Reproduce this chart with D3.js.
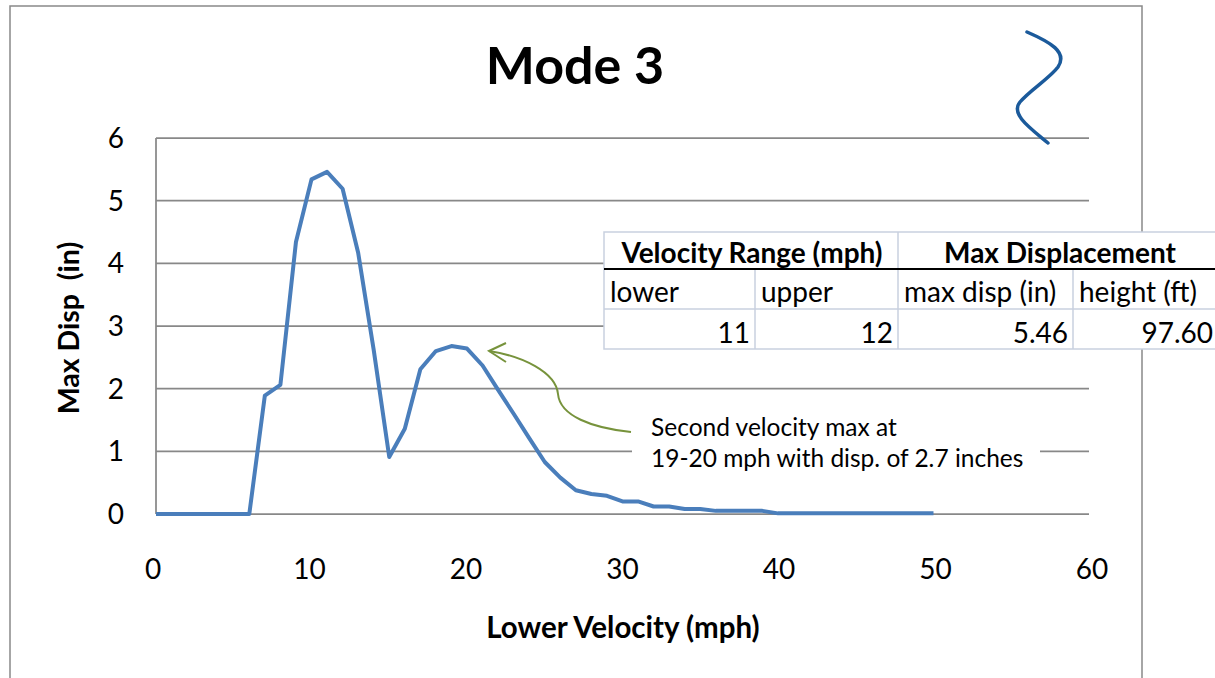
<!DOCTYPE html>
<html>
<head>
<meta charset="utf-8">
<script src="https://cdnjs.cloudflare.com/ajax/libs/d3/7.8.5/d3.min.js"></script>
<style>
  body { margin: 0; background: #fff; }
  svg { display: block; font-family: Lato, "Noto Sans", sans-serif; }
</style>
</head>
<body>
<div id="chart"></div>
<script>
/* chart data */
var velocity = [0, 1, 2, 3, 4, 5, 6, 7, 8, 9, 10, 11, 12, 13, 14, 15, 16, 17, 18, 19, 20,
                21, 22, 23, 24, 25, 26, 27, 28, 29, 30, 31, 32, 33, 34, 35, 36, 37, 38, 39, 40,
                41, 42, 43, 44, 45, 46, 47, 48, 49, 50];
var maxDisp = [0, 0, 0, 0, 0, 0, 0, 1.89, 2.06, 4.34, 5.34, 5.46, 5.19, 4.17, 2.62, 0.91, 1.36, 2.31, 2.60, 2.68, 2.64,
               2.37, 1.98, 1.60, 1.21, 0.83, 0.58, 0.38, 0.32, 0.29, 0.20, 0.20, 0.12, 0.12, 0.08, 0.08, 0.05, 0.05, 0.05, 0.05, 0.01,
               0.01, 0.01, 0.01, 0.01, 0.01, 0.01, 0.01, 0.01, 0.01, 0.01];
var xTicks = [0, 10, 20, 30, 40, 50, 60];
var yTicks = [0, 1, 2, 3, 4, 5, 6];

/* table data */
var tableGroups = ["Velocity Range (mph)", "Max Displacement"];
var tableColumns = ["lower", "upper", "max disp (in)", "height (ft)"];
var tableValues = ["11", "12", "5.46", "97.60"];

var noteLines = ["Second velocity max at", "19-20 mph with disp. of 2.7 inches"];

var width = 1215,
    height = 678,
    margin = { top: 138, right: 126, bottom: 164, left: 156 };

var svg = d3.select("#chart")
            .append("svg")
            .attr("width", width)
            .attr("height", height);

/* outer chart frame */
svg.append("rect")
    .attr("x", 10)
    .attr("y", 6)
    .attr("width", 1132)
    .attr("height", 720)
    .attr("fill", "#fff")
    .attr("stroke", "#898989")
    .attr("stroke-width", 1.5);

var x = d3.scaleLinear()
          .domain([0, 60])
          .range([margin.left, width - margin.right]);

var y = d3.scaleLinear()
          .domain([0, 6])
          .range([height - margin.bottom, margin.top]);

/* tick labels sit on a slightly wider span than the plot, like excel does */
var xLabel = d3.scaleLinear()
          .domain([0, 60])
          .range([margin.left - 3, width - margin.right + 3]);

/* gridlines */
svg.append("g")
    .selectAll("line")
    .data(yTicks)
    .enter().append("line")
        .attr("x1", x(0))
        .attr("x2", x(60))
        .attr("y1", function(d) { return y(d); })
        .attr("y2", function(d) { return y(d); })
        .attr("stroke", "#888")
        .attr("stroke-width", 1.75);

svg.append("line")
    .attr("x1", x(0))
    .attr("x2", x(0))
    .attr("y1", y(0))
    .attr("y2", y(6))
    .attr("stroke", "#888")
    .attr("stroke-width", 1.75);

/* tick labels */
svg.append("g")
    .selectAll("text")
    .data(yTicks)
    .enter().append("text")
        .attr("x", 124)
        .attr("y", function(d) { return y(d); })
        .attr("dy", "0.36em")
        .attr("text-anchor", "end")
        .attr("font-size", 28)
        .text(function(d) { return d; });

svg.append("g")
    .selectAll("text")
    .data(xTicks)
    .enter().append("text")
        .attr("x", function(d) { return xLabel(d); })
        .attr("y", 579)
        .attr("text-anchor", "middle")
        .attr("font-size", 28)
        .text(function(d) { return d; });

/* the series */
var line = d3.line()
    .x(function(d, i) { return x(velocity[i]); })
    .y(function(d) { return y(d); });

svg.append("path")
    .datum(maxDisp)
    .attr("d", line)
    .attr("fill", "none")
    .attr("stroke", "#4a7ebb")
    .attr("stroke-width", 4)
    .attr("stroke-linejoin", "round");

/* titles */
svg.append("text")
    .attr("x", 575)
    .attr("y", 84)
    .attr("text-anchor", "middle")
    .attr("font-size", 52)
    .attr("font-weight", "bold")
    .text("Mode 3");

svg.append("text")
    .attr("x", 623)
    .attr("y", 638)
    .attr("text-anchor", "middle")
    .attr("font-size", 29.5)
    .attr("font-weight", "bold")
    .text("Lower Velocity (mph)");

svg.append("text")
    .attr("transform", "translate(79,328) rotate(-90)")
    .attr("text-anchor", "middle")
    .attr("font-size", 28.5)
    .attr("font-weight", "bold")
    .attr("xml:space", "preserve")
    .text("Max Disp  (in)");

/* annotation */
svg.append("rect")
    .attr("x", 632)
    .attr("y", 402)
    .attr("width", 408)
    .attr("height", 76)
    .attr("fill", "#fff");

svg.append("g")
    .selectAll("text")
    .data(noteLines)
    .enter().append("text")
        .attr("x", 651)
        .attr("y", function(d, i) { return 436 + i * 31; })
        .attr("font-size", 24.5)
        .text(function(d) { return d; });

svg.append("path")
    .attr("d", "M631,432 C592,428 560,416 558,394 C556,372 522,356 489,351")
    .attr("fill", "none")
    .attr("stroke", "#77933c")
    .attr("stroke-width", 2);

svg.append("path")
    .attr("d", "M506,343 L489,351 L506,362")
    .attr("fill", "none")
    .attr("stroke", "#77933c")
    .attr("stroke-width", 2);

/* squiggle */
svg.append("path")
    .attr("d", "M1027,32 C1050,42 1068,52 1058,67 C1050,78 1030,90 1020,102 C1010,114 1030,128 1048,143")
    .attr("fill", "none")
    .attr("stroke", "#1b5a9b")
    .attr("stroke-width", 3.5)
    .attr("stroke-linecap", "round");

/* table */
var colX = [604, 755, 898, 1073, 1218],
    rowY = [232, 269, 309, 349],
    border = "#c9d1df";

var table = svg.append("g").attr("class", "table");

table.append("rect")
    .attr("x", colX[0])
    .attr("y", rowY[0])
    .attr("width", colX[4] - colX[0])
    .attr("height", rowY[3] - rowY[0])
    .attr("fill", "#fff")
    .attr("stroke", border)
    .attr("stroke-width", 1.5);

table.selectAll(".hline")
    .data([rowY[2]])
    .enter().append("line")
        .attr("class", "hline")
        .attr("x1", colX[0])
        .attr("x2", colX[4])
        .attr("y1", function(d) { return d; })
        .attr("y2", function(d) { return d; })
        .attr("stroke", border)
        .attr("stroke-width", 1.5);

table.selectAll(".vline")
    .data([1, 2, 3])
    .enter().append("line")
        .attr("class", "vline")
        .attr("x1", function(d) { return colX[d]; })
        .attr("x2", function(d) { return colX[d]; })
        .attr("y1", function(d) { return d == 2 ? rowY[0] : rowY[1]; })
        .attr("y2", rowY[3])
        .attr("stroke", border)
        .attr("stroke-width", 1.5);

table.append("line")
    .attr("x1", colX[0])
    .attr("x2", colX[4])
    .attr("y1", rowY[1])
    .attr("y2", rowY[1])
    .attr("stroke", "#000")
    .attr("stroke-width", 2);

table.selectAll(".group")
    .data(tableGroups)
    .enter().append("text")
        .attr("class", "group")
        .attr("x", function(d, i) { return i == 0 ? 752 : 1060; })
        .attr("y", 263)
        .attr("text-anchor", "middle")
        .attr("font-size", 28)
        .attr("font-weight", "bold")
        .text(function(d) { return d; });

table.selectAll(".colname")
    .data(tableColumns)
    .enter().append("text")
        .attr("class", "colname")
        .attr("x", function(d, i) { return colX[i] + 6; })
        .attr("y", 302)
        .attr("font-size", 28)
        .text(function(d) { return d; });

table.selectAll(".value")
    .data(tableValues)
    .enter().append("text")
        .attr("class", "value")
        .attr("x", function(d, i) { return colX[i + 1] - 5; })
        .attr("y", 343)
        .attr("text-anchor", "end")
        .attr("font-size", 28)
        .text(function(d) { return d; });
</script>
</body>
</html>
